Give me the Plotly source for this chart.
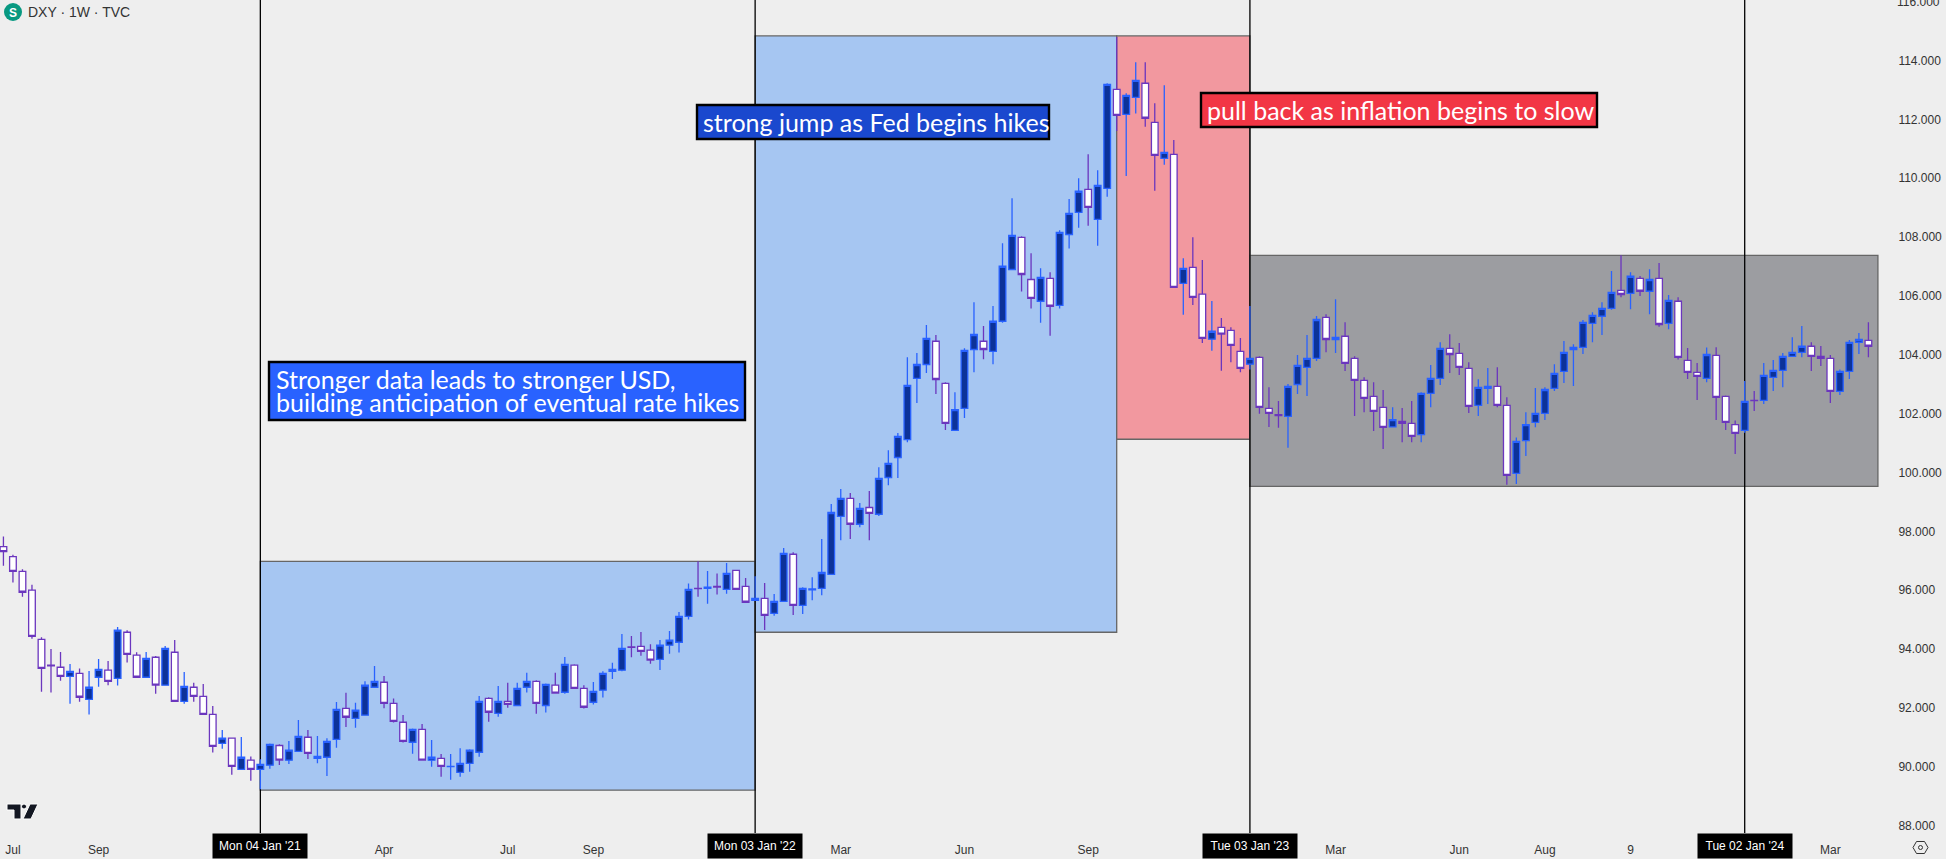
import pandas as pd
import plotly.graph_objects as go

# Weekly DXY candles
opens = [
    97.48, 97.14, 96.64, 96.00, 94.33, 93.45, 93.38, 93.07, 93.17, 92.29,
    93.04, 93.28, 93.00, 94.57, 93.79, 93.04, 93.72, 92.77, 93.89, 92.22,
    92.70, 92.39, 91.78, 90.79, 90.97, 89.91, 90.22, 89.91, 90.05, 90.72,
    90.22, 90.52, 91.00, 90.28, 90.32, 90.93, 91.98, 91.64, 91.75, 92.70,
    92.87, 92.15, 91.51, 90.83, 91.27, 90.22, 90.28, 90.00, 89.81, 90.11,
    90.49, 92.32, 91.81, 92.22, 92.08, 92.70, 92.90, 92.08, 92.77, 92.53,
    93.45, 92.66, 92.19, 92.60, 93.24, 93.28, 94.07, 94.09, 93.96, 93.65,
    94.13, 94.23, 95.11, 96.06, 96.06, 96.13, 96.03, 96.67, 96.13, 95.65,
    95.72, 95.21, 95.62, 97.22, 95.48, 96.01, 96.06, 96.54, 98.51, 99.12,
    98.24, 98.81, 98.58, 99.83, 100.51, 101.12, 103.20, 103.67, 104.46, 103.03,
    101.43, 102.18, 104.18, 104.46, 104.12, 105.14, 106.90, 107.99, 106.56, 105.82,
    106.60, 105.68, 108.09, 108.84, 109.62, 108.60, 109.66, 113.02, 112.17, 112.75,
    113.23, 111.90, 110.68, 110.81, 106.43, 106.97, 106.06, 104.53, 104.93, 104.83,
    104.12, 103.68, 103.91, 102.18, 101.97, 101.91, 102.99, 103.57, 103.88, 105.27,
    104.52, 104.63, 103.88, 103.13, 102.59, 102.21, 101.55, 101.74, 101.67, 101.29,
    102.69, 103.20, 104.22, 104.05, 103.54, 102.28, 102.86, 102.93, 102.28, 99.97,
    101.08, 101.70, 102.01, 102.86, 103.44, 104.18, 104.25, 105.07, 105.31, 105.58,
    106.19, 106.09, 106.60, 106.16, 106.60, 105.07, 105.82, 103.81, 103.40, 103.20,
    103.98, 102.59, 101.63, 101.43, 102.45, 102.45, 103.23, 103.47, 103.95, 104.08,
    104.29, 103.95, 103.88, 102.76, 103.44, 104.42, 104.49,
]
closes = [
    97.31, 96.64, 95.93, 94.43, 93.34, 93.43, 93.07, 93.24, 92.36, 92.70,
    93.31, 92.90, 94.64, 93.82, 93.04, 93.68, 92.77, 94.02, 92.22, 92.73,
    92.39, 91.78, 90.69, 90.97, 90.01, 90.32, 89.91, 90.08, 90.76, 90.22,
    90.56, 91.03, 90.45, 90.35, 90.86, 91.95, 91.68, 91.92, 92.77, 92.90,
    92.15, 91.54, 90.86, 91.27, 90.22, 90.32, 90.01, 90.01, 90.11, 90.56,
    92.22, 91.85, 92.22, 92.12, 92.66, 92.90, 92.15, 92.80, 92.50, 93.48,
    92.66, 92.02, 92.56, 93.17, 93.31, 94.02, 94.06, 93.92, 93.62, 94.13,
    94.30, 95.11, 96.03, 96.05, 96.10, 96.10, 96.57, 96.03, 95.59, 95.72,
    95.14, 95.62, 97.25, 95.48, 96.06, 96.04, 96.60, 98.64, 99.12, 98.24,
    98.78, 98.61, 99.80, 100.31, 101.23, 102.96, 103.67, 104.56, 103.16, 101.67,
    102.14, 104.15, 104.69, 104.18, 105.14, 107.01, 108.06, 106.73, 105.92, 106.63,
    105.65, 108.16, 108.81, 109.56, 109.01, 109.76, 113.19, 112.14, 112.82, 113.33,
    112.04, 110.78, 110.88, 106.29, 106.94, 105.95, 104.56, 104.80, 104.70, 104.32,
    103.54, 103.88, 102.21, 102.01, 101.93, 102.93, 103.64, 103.88, 105.20, 104.52,
    104.59, 103.71, 103.13, 102.52, 102.08, 101.53, 101.80, 101.67, 101.23, 102.69,
    103.20, 104.22, 104.01, 103.57, 102.25, 102.89, 102.93, 102.28, 99.90, 101.06,
    101.63, 102.01, 102.82, 103.37, 104.08, 104.25, 105.10, 105.34, 105.58, 106.12,
    106.05, 106.67, 106.16, 106.56, 105.03, 105.85, 103.91, 103.40, 103.27, 104.01,
    102.55, 101.70, 101.33, 102.42, 102.44, 103.30, 103.47, 103.95, 104.08, 104.29,
    103.95, 103.88, 102.76, 103.44, 104.42, 104.52, 104.29,
]
highs = [
    97.82, 97.20, 96.71, 96.18, 94.40, 94.00, 93.90, 93.49, 93.34, 93.25,
    93.66, 93.59, 94.75, 94.64, 93.89, 93.90, 93.76, 94.10, 94.31, 93.22,
    92.85, 92.81, 92.06, 91.25, 90.97, 91.01, 90.35, 90.25, 90.79, 90.76,
    90.87, 91.59, 91.25, 91.04, 90.97, 92.20, 92.51, 92.17, 92.90, 93.42,
    93.08, 92.32, 91.76, 91.30, 91.45, 90.91, 90.43, 90.43, 90.63, 90.59,
    92.40, 92.36, 92.74, 92.85, 92.85, 93.19, 92.94, 92.83, 93.19, 93.73,
    93.48, 92.77, 92.88, 93.24, 93.53, 94.51, 94.44, 94.58, 94.16, 94.31,
    94.61, 95.26, 96.23, 96.98, 96.65, 96.57, 96.92, 96.67, 96.41, 96.47,
    96.24, 95.87, 97.43, 97.29, 96.10, 96.44, 97.74, 98.93, 99.44, 99.30,
    98.96, 99.37, 100.18, 100.76, 101.34, 103.92, 104.06, 105.01, 104.67, 103.07,
    102.73, 104.22, 105.79, 104.98, 105.66, 107.79, 109.32, 108.03, 107.45, 106.94,
    106.81, 108.23, 109.30, 110.00, 110.82, 110.27, 113.23, 114.80, 112.89, 113.94,
    113.94, 112.55, 113.16, 111.30, 107.28, 108.00, 107.22, 105.83, 105.25, 104.94,
    104.57, 105.66, 103.95, 102.90, 102.43, 103.01, 103.99, 104.67, 105.32, 105.38,
    105.89, 105.11, 103.95, 103.24, 103.07, 102.80, 102.22, 102.19, 102.43, 102.73,
    103.65, 104.43, 104.70, 104.40, 103.75, 103.17, 103.55, 103.58, 102.56, 101.19,
    102.05, 102.87, 102.90, 103.68, 104.47, 104.36, 105.18, 105.45, 105.79, 106.85,
    107.38, 106.81, 106.68, 106.91, 107.12, 106.03, 105.96, 104.23, 103.72, 104.25,
    104.26, 102.62, 101.77, 103.11, 102.77, 103.72, 103.82, 104.06, 104.60, 104.98,
    104.43, 104.30, 103.99, 103.50, 104.50, 104.74, 105.11,
]
lows = [
    96.83, 96.26, 95.78, 94.35, 92.55, 92.52, 92.92, 92.14, 92.21, 91.77,
    92.72, 92.77, 92.76, 93.54, 93.04, 93.04, 92.48, 92.77, 92.22, 92.14,
    92.21, 91.78, 90.48, 90.61, 89.73, 89.91, 89.52, 89.23, 89.93, 90.06,
    90.09, 90.52, 90.26, 90.12, 89.68, 90.64, 91.35, 91.32, 91.75, 92.70,
    91.99, 91.50, 90.82, 90.44, 90.22, 90.00, 89.66, 89.56, 89.66, 89.83,
    90.34, 91.53, 91.70, 92.00, 92.08, 92.52, 91.80, 91.84, 92.50, 92.48,
    92.66, 91.98, 92.11, 92.35, 92.98, 93.24, 93.72, 93.77, 93.50, 93.29,
    93.84, 93.88, 95.00, 95.78, 95.54, 95.85, 95.88, 96.03, 95.59, 95.63,
    94.65, 95.13, 95.62, 95.16, 95.19, 95.66, 95.83, 96.54, 97.70, 97.74,
    98.14, 97.70, 98.52, 99.57, 99.81, 101.03, 102.36, 103.38, 102.67, 101.44,
    101.43, 101.85, 103.41, 103.85, 103.68, 105.09, 106.90, 106.15, 105.57, 105.09,
    104.65, 105.57, 107.61, 108.32, 108.39, 107.71, 109.37, 111.61, 110.08, 112.20,
    111.75, 109.58, 110.46, 106.29, 105.36, 105.69, 104.40, 104.14, 103.46, 103.75,
    103.41, 103.50, 102.00, 101.55, 101.52, 100.84, 102.67, 102.60, 103.79, 104.09,
    104.06, 103.45, 101.92, 102.05, 101.41, 100.80, 101.55, 101.03, 101.03, 101.03,
    102.22, 102.97, 103.38, 103.31, 102.02, 101.92, 102.33, 102.22, 99.58, 99.61,
    100.56, 101.54, 101.78, 102.77, 103.04, 102.94, 104.03, 104.43, 104.67, 105.53,
    105.96, 105.55, 106.00, 105.38, 104.95, 104.87, 103.84, 103.18, 102.46, 103.07,
    101.78, 101.44, 100.63, 101.35, 102.09, 102.33, 102.77, 102.90, 103.95, 103.92,
    103.45, 103.62, 102.36, 102.63, 103.18, 104.03, 103.92,
]
weeks = pd.date_range("2020-06-29", periods=len(opens), freq="7D")

# Axis labels
month_dates = ["2020-07-06", "2020-09-07", "2021-04-05", "2021-07-05", "2021-09-06", "2022-03-07",
               "2022-06-06", "2022-09-05", "2023-03-06", "2023-06-05", "2023-08-07", "2023-10-09",
               "2024-03-04"]
month_labels = ["Jul", "Sep", "Apr", "Jul", "Sep", "Mar", "Jun", "Sep", "Mar", "Jun", "Aug", "9", "Mar"]
price_ticks = list(range(88, 116, 2))

# Marked dates and their axis labels
event_dates = ["2021-01-04", "2022-01-03", "2023-01-02", "2024-01-01"]
event_labels = ["Mon 04 Jan '21", "Mon 03 Jan '22", "Tue 03 Jan '23", "Tue 02 Jan '24"]

# Shaded ranges: start, end, low, high, fill
zones = [
    ("2021-01-04", "2022-01-03", 89.20, 96.98, "#A6C6F2"),
    ("2022-01-03", "2022-09-26", 94.57, 114.84, "#A6C6F2"),
    ("2022-09-26", "2023-01-02", 101.13, 114.84, "#F2989F"),
    ("2023-01-02", "2024-04-08", 99.53, 107.38, "#9C9DA1"),
]

W, H = 1946, 859
PLOT_W, PLOT_H = 1892, 833
Y_RANGE = [87.746, 116.06]
def px(x): return x / PLOT_W
def py(y): return 1 - y / PLOT_H
week0 = pd.Timestamp("2021-01-04")
xr = [week0 + pd.Timedelta(days=7 * -27.36), week0 + pd.Timedelta(days=7 * 171.48)]

fig = go.Figure(go.Candlestick(
    x=weeks, open=opens, high=highs, low=lows, close=closes,
    increasing=dict(line=dict(color="#2962FF", width=1.3), fillcolor="#0C3299"),
    decreasing=dict(line=dict(color="#6B36BE", width=1.3), fillcolor="#FFFFFF"),
    hoverinfo="skip", showlegend=False,
))

shapes = []
for x0, x1, y0, y1, col in zones:
    shapes.append(dict(type="rect", x0=x0, x1=x1, y0=y0, y1=y1, xref="x", yref="y", layer="below",
                       fillcolor=col, line=dict(color="#666666", width=1.3)))
for d in event_dates:
    shapes.append(dict(type="line", x0=d, x1=d, y0=Y_RANGE[0], y1=Y_RANGE[1], xref="x", yref="y", layer="below",
                       line=dict(color="#000000", width=1.3)))

annotations = []
def text_at(x, y, text, size, color="#FFFFFF", font="Lato", anchor="left"):
    annotations.append(dict(x=px(x), y=py(y), xref="paper", yref="paper", text=text, showarrow=False,
                            xanchor=anchor, yanchor="middle", font=dict(family=font, size=size, color=color)))

def box(x0, y0, x1, y1, fill):
    shapes.append(dict(type="rect", x0=px(x0), x1=px(x1), y0=py(y0), y1=py(y1), xref="paper", yref="paper",
                       layer="above", fillcolor=fill, line=dict(color="#000000", width=2.4)))

box(269, 362, 745, 420, "#2962FF")
text_at(274, 378.5, "Stronger data leads to stronger USD,", 25)
text_at(274, 402, "building anticipation of eventual rate hikes", 25)
box(697, 105, 1049, 139, "#1A48CE")
text_at(701, 121.5, "strong jump as Fed begins hikes", 25)
box(1201, 93, 1597, 127, "#F23645")
text_at(1205, 109.5, "pull back as inflation begins to slow", 25)

for d, lab in zip(event_dates, event_labels):
    annotations.append(dict(x=d, y=0, xref="x", yref="paper", yanchor="top", xanchor="center", yshift=0,
                            text=lab, showarrow=False, bgcolor="#000000", width=92, height=22,
                            font=dict(family="Liberation Sans", size=12, color="#FFFFFF")))

# Top price label, cut by the window edge as in the reference
text_at(1895, 2, "116.000", 12, color="#333333", font="Liberation Sans")

# Header: symbol badge and title
shapes.append(dict(type="circle", x0=px(4), x1=px(22), y0=py(21), y1=py(3), xref="paper", yref="paper",
                   fillcolor="#089981", line=dict(width=0), layer="above"))
text_at(13, 12.5, "<b>S</b>", 12, anchor="center", font="Liberation Sans")
text_at(26, 12, "DXY · 1W · TVC", 14, color="#333333", font="Liberation Sans")

# TradingView logo
def poly(pts):
    return "M" + " L".join(f"{px(x):.5f},{py(y):.5f}" for x, y in pts) + " Z"
logo = dict(xref="paper", yref="paper", layer="above", fillcolor="#131722", line=dict(color="#FFFFFF", width=1))
shapes.append(dict(type="path", path=poly([(7, 804), (21, 804), (21, 819), (14, 819), (14, 810), (7, 810)]), **logo))
shapes.append(dict(type="circle", x0=px(21.5), x1=px(26.5), y0=py(809), y1=py(804), **logo))
shapes.append(dict(type="path", path=poly([(30, 804), (38, 804), (31, 819), (23, 819)]), **logo))

# Settings icon
shapes.append(dict(type="path", path=poly([(1913, 847.5), (1916.5, 841.5), (1924.5, 841.5), (1928, 847.5),
                                           (1924.5, 853.5), (1916.5, 853.5)]),
                   xref="paper", yref="paper", layer="above", line=dict(color="#333333", width=1)))
shapes.append(dict(type="circle", x0=px(1918.5), x1=px(1922.5), y0=py(849.5), y1=py(845.5),
                   xref="paper", yref="paper", layer="above", line=dict(color="#333333", width=1)))

fig.update_layout(
    width=W, height=H, autosize=False,
    margin=dict(l=0, r=W - PLOT_W, t=0, b=H - PLOT_H),
    paper_bgcolor="#EEEEEE", plot_bgcolor="#EEEEEE",
    boxgap=0.3, boxgroupgap=0,
    shapes=shapes, annotations=annotations, showlegend=False, hovermode=False,
    xaxis=dict(type="date", range=xr, rangeslider=dict(visible=False), showgrid=False, zeroline=False,
               showline=False, tickmode="array", tickvals=month_dates, ticktext=month_labels,
               ticks="outside", ticklen=6, tickcolor="rgba(0,0,0,0)",
               tickfont=dict(family="Liberation Sans", size=12, color="#333333")),
    yaxis=dict(range=Y_RANGE, side="right", showgrid=False, zeroline=False, showline=False,
               tickmode="array", tickvals=price_ticks, tickformat=".3f",
               ticks="outside", ticklen=3, tickcolor="rgba(0,0,0,0)",
               tickfont=dict(family="Liberation Sans", size=12, color="#333333")),
)
fig.write_html("out.html", config=dict(displayModeBar=False),
               post_script="document.body.style.margin='0';document.body.style.background='#EEEEEE';")
